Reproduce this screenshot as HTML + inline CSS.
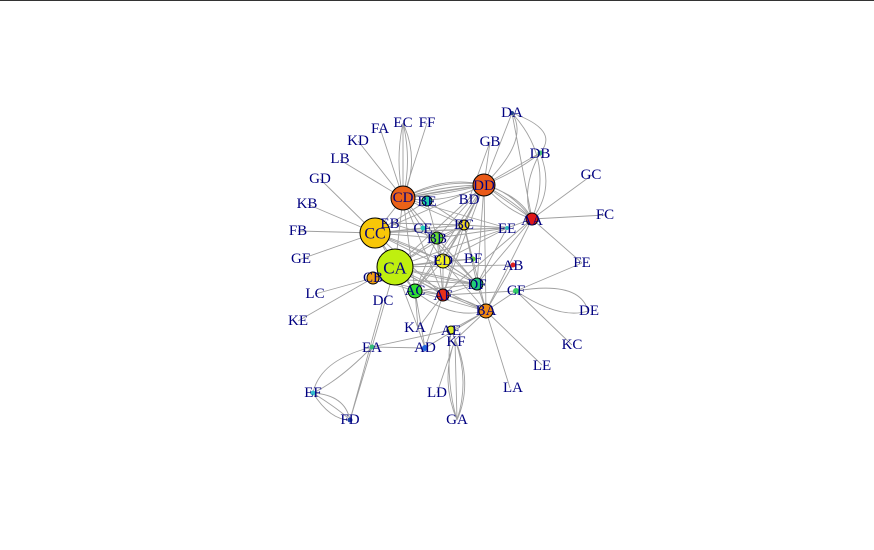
<!DOCTYPE html>
<html><head><meta charset="utf-8"><style>
html,body{margin:0;padding:0;background:#fff;width:874px;height:550px;overflow:hidden}
svg text{font-family:"Liberation Serif",serif;font-size:15px;fill:#000080;text-anchor:middle;dominant-baseline:central}
</style></head><body>
<svg width="874" height="550" viewBox="0 0 874 550">
<line x1="0" y1="0.5" x2="874" y2="0.5" stroke="#333" stroke-width="1"/>
<g stroke="#a0a0a0" stroke-width="0.9" fill="none">
<path d="M403,198L427,123M403,198L403,123M403,198L380,128M403,198L358,141M403,198L340,160M375,233L320,179M375,233L307,204M375,233L298,231M375,233L301,259M373,278L315,294M373,278L298,321"/>
<path d="M403,198Q395,160 403,123Q412,160 403,198M403,198Q420,160 403,123"/>
<path d="M484,185L490,142M484,185L512,113M484,185L540,153M484,185Q530,140 512,113M484,185Q520,170 540,153M512,113Q560,130 540,153M512,113Q555,160 532,219M540,153Q555,190 532,219M540,153Q520,190 532,219M512,113L532,219M490,142L469,199"/>
<path d="M532,219L592,175M532,219L605,215M532,219L582,263M532,219L486,311M532,219L477,284M532,219L443,295M532,219L507,228"/>
<path d="M516,291L582,263M516,291L572,345M516,291Q580,280 588,311Q560,320 516,291M516,291L486,311M516,291L443,295"/>
<path d="M486,311L510,388M486,311L542,365M486,311L451,330M486,311L455,340M486,311L425,348M486,311L513,265M486,311L415,291M486,311L395,267M486,311L477,284M486,311L443,261M486,311L464,225"/>
<path d="M455,340L457,420M455,340Q440,380 457,420M455,340Q470,380 457,420M451,330Q445,380 457,420M455,340L437,393M451,330Q475,380 457,420"/>
<path d="M372,347L425,348M372,347L451,330M372,347L395,267M372,347L350,420M372,347Q320,360 313,393M372,347Q340,380 313,393M313,393Q345,395 350,420M313,393Q330,420 350,420M313,393Q340,410 350,420M383,300L350,420"/>
<path d="M425,348L415,291M425,348L418,328M425,348L443,295M418,328L415,291M418,328L443,295M418,328L395,267M425,348L486,311"/>
<path d="M395,267L375,233M395,267L403,198M395,267L484,185M395,267L443,261M395,267L477,284M395,267L443,295M395,267L415,291M395,267L437,238M395,267L464,225M395,267L507,228M395,267L473,259M395,267L513,265M395,267L373,278"/>
<path d="M375,233L403,198M375,233L484,185M375,233L443,261M375,233L477,284M375,233L443,295M375,233L437,238M375,233L464,225M375,233L427,201M375,233L423,228M375,233L507,228M375,233L415,291M375,233Q430,250 477,284M375,233Q440,230 507,228"/>
<path d="M403,198L484,185M403,198Q445,175 484,185M403,198Q445,185 484,185M403,198Q445,195 484,185M403,198Q445,205 484,185M403,198Q445,178 484,185M403,198Q445,190 484,185M403,198L443,261M403,198L464,225M403,198L437,238M403,198L477,284M403,198L443,295M403,198L507,228M403,198L415,291"/>
<path d="M484,185L532,219M484,185Q510,190 532,219M484,185Q505,210 532,219M484,185Q520,195 532,219M484,185Q512,200 532,219M484,185L443,261M484,185L437,238M484,185L464,225M484,185L477,284M484,185L415,291M484,185L443,295M484,185L486,311"/>
<path d="M443,261L477,284M443,261L443,295M443,261L415,291M443,261L464,225M443,261L437,238M443,261L507,228M443,261L473,259"/>
<path d="M415,291L443,295M415,291L477,284M415,291L437,238M415,291L464,225M443,295L477,284M443,295L464,225M443,295L437,238M477,284L464,225M477,284L437,238M477,284L507,228M464,225L507,228M437,238L507,228M464,225L437,238M427,201L464,225M427,201L443,261M390,223L437,238M390,223L464,225M423,228L477,284"/>
<path d="M443,295Q470,300 486,311M415,291Q450,320 486,311M373,278L443,295M373,278L477,284M373,278L415,291M395,267Q440,280 477,284M395,267Q430,290 486,311"/>
</g>
<g stroke="#000" stroke-width="1">
<circle cx="395" cy="267" r="18" fill="#bfef0f"/>
<circle cx="375" cy="233" r="15" fill="#f8c708"/>
<circle cx="403" cy="198" r="12" fill="#ea6218"/>
<circle cx="484" cy="185" r="11" fill="#ea5a18"/>
<circle cx="486" cy="311" r="7" fill="#ee8a12"/>
<circle cx="373" cy="278" r="6" fill="#f0a012"/>
<circle cx="415" cy="291" r="7" fill="#33dd33"/>
<circle cx="443" cy="295" r="6" fill="#e83018"/>
<circle cx="477" cy="284" r="6" fill="#22cc77"/>
<circle cx="443" cy="261" r="7" fill="#f0f020"/>
<circle cx="464" cy="225" r="5" fill="#f0d820"/>
<circle cx="437" cy="238" r="6" fill="#66dd33"/>
<circle cx="427" cy="201" r="5" fill="#22ccaa"/>
<circle cx="532" cy="219" r="6" fill="#e01818"/>
<circle cx="451" cy="330" r="4" fill="#ddee22"/>
</g>
<g>
<circle cx="423" cy="228" r="2.5" fill="#22ccbb"/><circle cx="513" cy="265" r="2.5" fill="#dd2222"/>
<circle cx="516" cy="291" r="3" fill="#33cc66"/><circle cx="473" cy="259" r="2.5" fill="#66cc33"/>
<circle cx="507" cy="228" r="2" fill="#33bbbb"/><circle cx="425" cy="348" r="3" fill="#2266dd"/>
<circle cx="372" cy="347" r="2.5" fill="#33bb77"/><circle cx="313" cy="393" r="2.5" fill="#33bbcc"/>
<circle cx="350" cy="420" r="2.5" fill="#2244aa"/><circle cx="540" cy="153" r="2.5" fill="#44bb77"/>
<circle cx="512" cy="113" r="2" fill="#224488"/>
</g>
<g>
<text x="395" y="268" style="font-size:17px">CA</text><text x="375" y="234" style="font-size:16px">CC</text>
<text x="403" y="198">CD</text><text x="484" y="186">DD</text><text x="486" y="311">BA</text>
<text x="373" y="278">CB</text><text x="415" y="291">AC</text><text x="443" y="296">AF</text>
<text x="477" y="285">DF</text><text x="443" y="261">ED</text><text x="464" y="225">BC</text>
<text x="437" y="239">BB</text><text x="427" y="202">BE</text><text x="532" y="221">AA</text>
<text x="451" y="331">AE</text><text x="423" y="229">CE</text><text x="513" y="266">AB</text>
<text x="516" y="291">CF</text><text x="473" y="259">BF</text><text x="507" y="229">EE</text>
<text x="390" y="224">EB</text><text x="383" y="301">DC</text><text x="415" y="328">KA</text>
<text x="425" y="348">AD</text><text x="456" y="342">KF</text><text x="372" y="348">EA</text>
<text x="313" y="393">EF</text><text x="350" y="420">FD</text><text x="437" y="393">LD</text>
<text x="457" y="420">GA</text><text x="513" y="388">LA</text><text x="542" y="366">LE</text>
<text x="572" y="345">KC</text><text x="589" y="311">DE</text><text x="582" y="263">FE</text>
<text x="605" y="215">FC</text><text x="591" y="175">GC</text><text x="540" y="154">DB</text>
<text x="512" y="113">DA</text><text x="490" y="142">GB</text><text x="469" y="200">BD</text>
<text x="427" y="123">FF</text><text x="403" y="123">EC</text><text x="380" y="129">FA</text>
<text x="358" y="141">KD</text><text x="340" y="159">LB</text><text x="320" y="179">GD</text>
<text x="307" y="204">KB</text><text x="298" y="231">FB</text><text x="301" y="259">GE</text>
<text x="315" y="294">LC</text><text x="298" y="321">KE</text>
</g>
</svg>
</body></html>
